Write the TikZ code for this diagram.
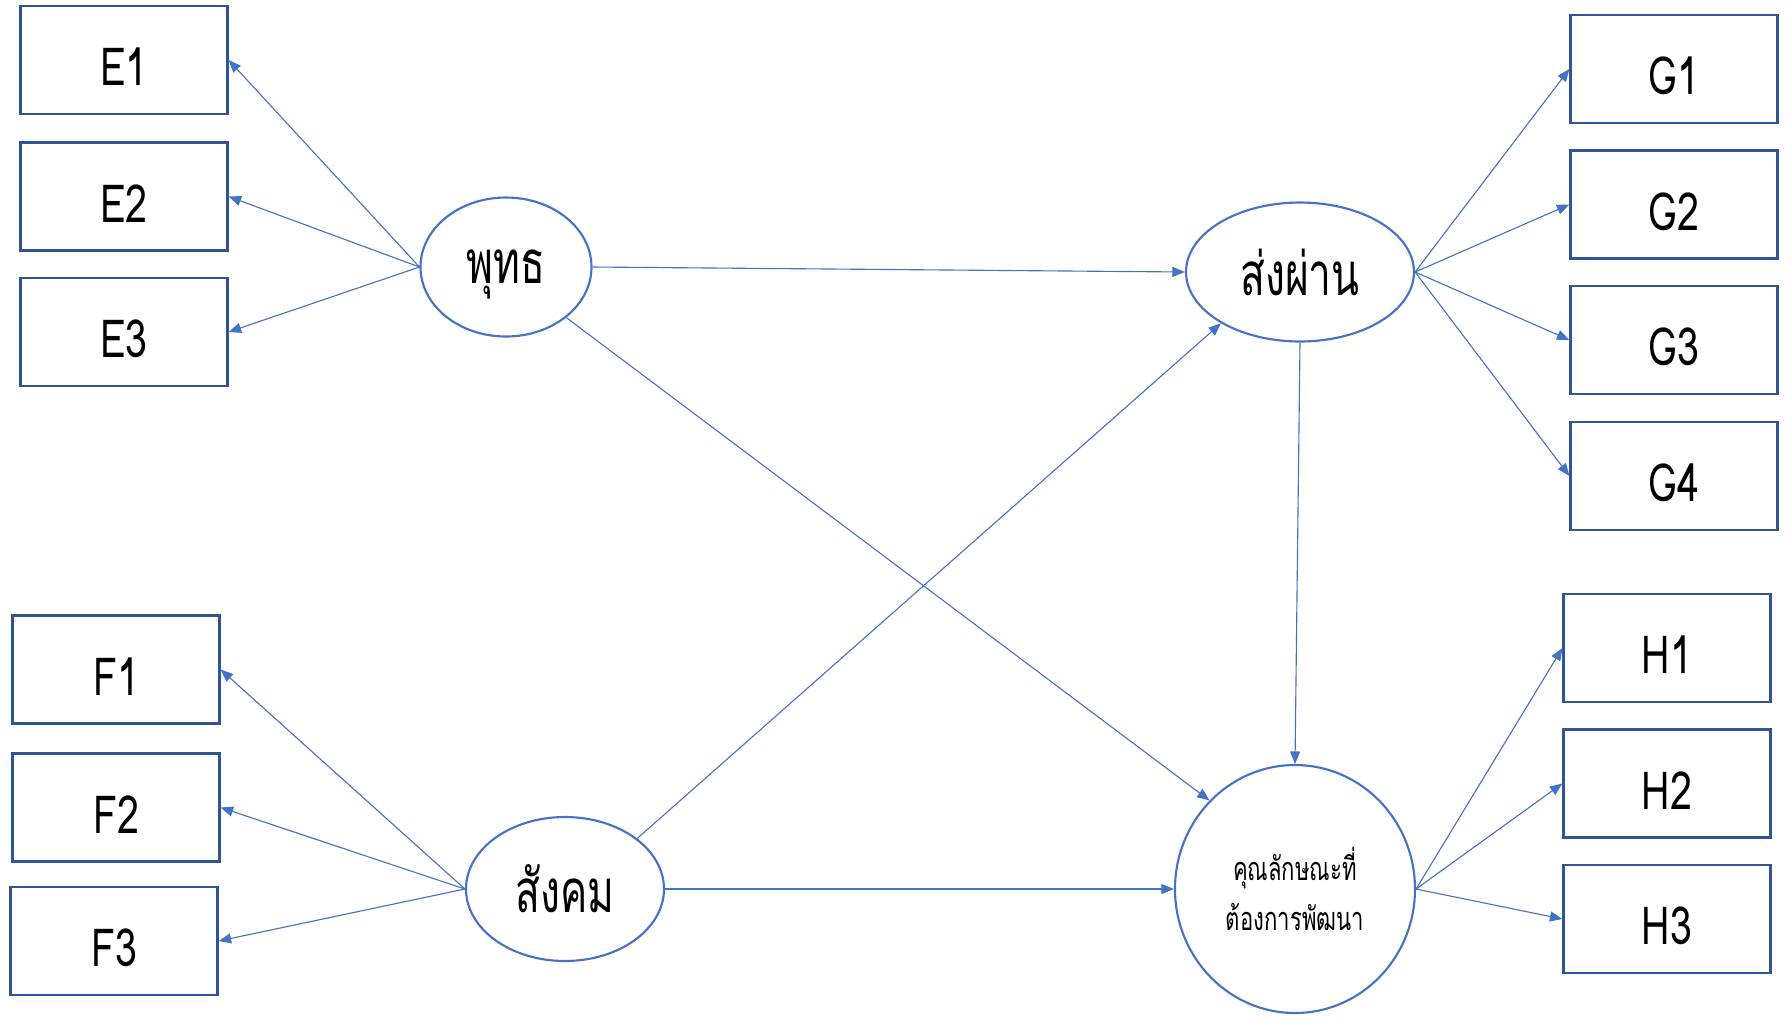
\documentclass[tikz,border=0pt]{standalone}
\usepackage{fontspec}
\newfontfamily\thaifont[Script=Thai,FakeStretch=0.68]{Loma}
\newfontfamily\latfont[FakeStretch=0.75]{Loma}
\usetikzlibrary{shapes.geometric,arrows.meta}
\definecolor{linkblue}{HTML}{4472C4}
\definecolor{boxblue}{HTML}{2F5597}
\begin{document}
\begin{tikzpicture}[x=0.4pt,y=-0.4pt,
  ind/.style={draw=boxblue,line width=0.9pt,rectangle,minimum width=207*0.4pt,minimum height=108*0.4pt,inner sep=0pt,text height=20.5pt,text depth=0pt,font=\latfont\fontsize{21}{24}\selectfont},
  lat/.style={draw=linkblue,line width=0.85pt,ellipse,inner sep=0pt,font=\thaifont\fontsize{24}{27}\selectfont},
  link/.style={draw=linkblue,line width=0.45pt,-{Triangle[length=5pt,width=4pt]}}]
\useasboundingbox (0,0) rectangle (1787,1016);
% indicators
\node[ind] (E1) at (124,60) {E1};
\node[ind] (E2) at (124,196.5) {E2};
\node[ind] (E3) at (124,332) {E3};
\node[ind] (F1) at (116,669.5) {F1};
\node[ind] (F2) at (116,807.5) {F2};
\node[ind] (F3) at (114,941) {F3};
\node[ind] (G1) at (1674,69) {G1};
\node[ind] (G2) at (1674,204.5) {G2};
\node[ind] (G3) at (1674,340) {G3};
\node[ind] (G4) at (1674,476) {G4};
\node[ind] (H1) at (1667,648) {H1};
\node[ind] (H2) at (1667,783.5) {H2};
\node[ind] (H3) at (1667,919) {H3};
% latent variables
\node[lat,minimum width=171*0.4pt,minimum height=139*0.4pt,text depth=0pt] (B) at (506,267) {พุทธ};
\node[lat,minimum width=228*0.4pt,minimum height=139*0.4pt] (M) at (1300,272) {ส่งผ่าน};
\node[lat,minimum width=198*0.4pt,minimum height=144*0.4pt] (S) at (565,889) {สังคม};
\node[lat,minimum width=240*0.4pt,minimum height=248*0.4pt,align=center,font=\thaifont\fontsize{13}{20}\selectfont] (K) at (1295,889) {คุณลักษณะที่\\ต้องการพัฒนา};
% connectors
\draw[link] (B.west) -- (E1.east);
\draw[link] (B.west) -- (E2.east);
\draw[link] (B.west) -- (E3.east);
\draw[link] (S.west) -- (F1.east);
\draw[link] (S.west) -- (F2.east);
\draw[link] (S.west) -- (F3.east);
\draw[link] (M.east) -- (G1.west);
\draw[link] (M.east) -- (G2.west);
\draw[link] (M.east) -- (G3.west);
\draw[link] (M.east) -- (G4.west);
\draw[link] (K.east) -- (H1.west);
\draw[link] (K.east) -- (H2.west);
\draw[link] (K.east) -- (H3.west);
\draw[link] (B.east) -- (M.west);
\draw[link] (B.-40) -- (K.134);
\draw[link] (S.35) -- (M.213);
\draw[link] (S.east) -- (K.west);
\draw[link] (M.south) -- (K.north);
\end{tikzpicture}
\end{document}
